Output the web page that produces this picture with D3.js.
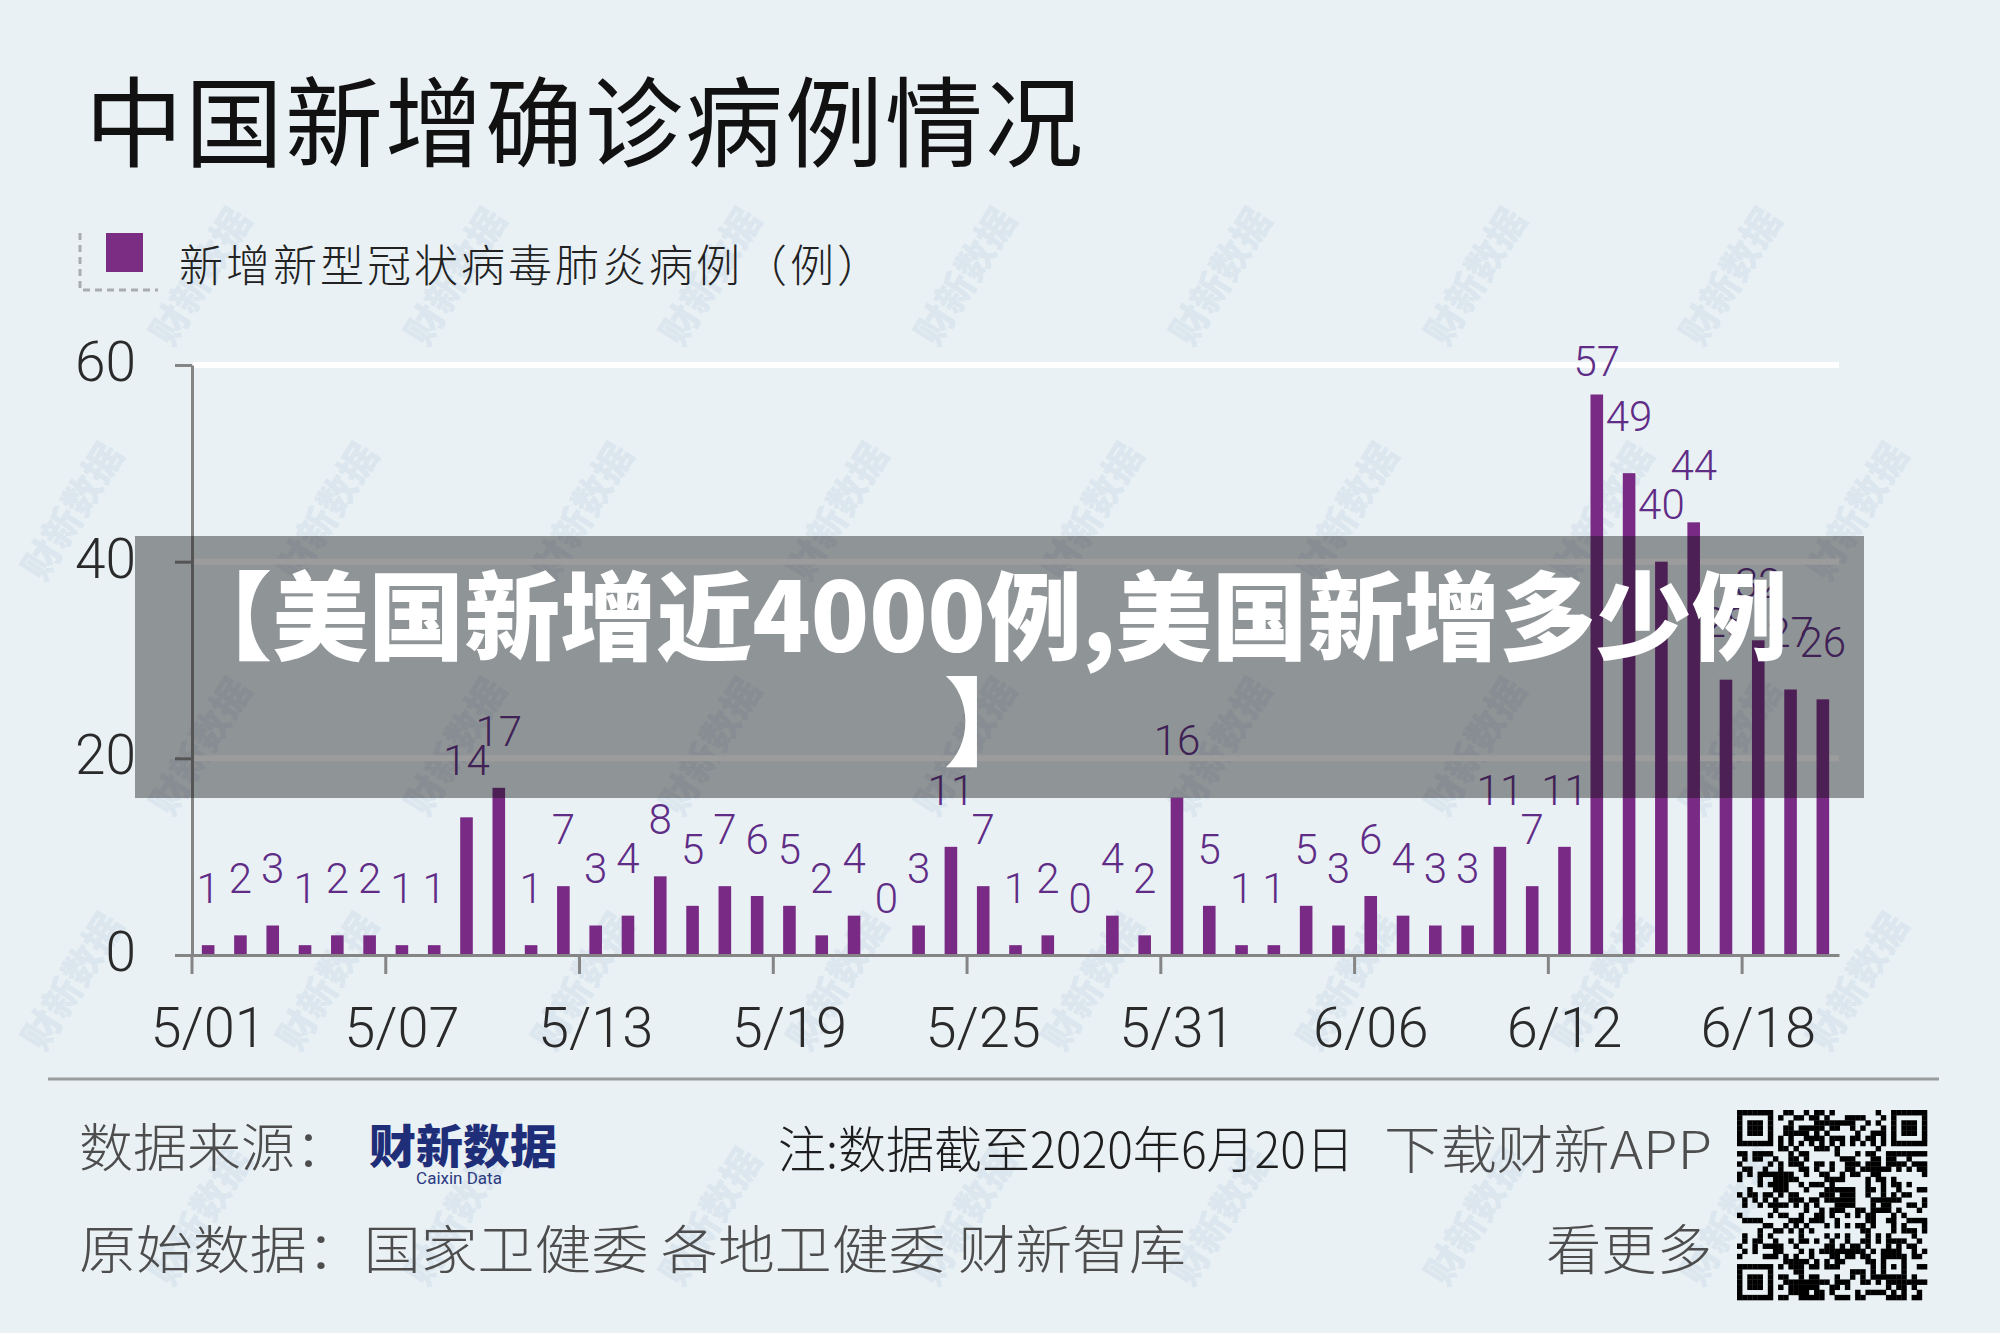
<!DOCTYPE html>
<html><head><meta charset="utf-8">
<script src="https://cdn.jsdelivr.net/npm/d3@7"></script>
<style>
html,body{margin:0;padding:0;background:#e9f1f5;}
svg{display:block;}
</style></head><body>
<svg id="c" width="2000" height="1333"></svg>
<script>
// ---------------- data ----------------
const dates = ['5/01','5/02','5/03','5/04','5/05','5/06','5/07','5/08','5/09','5/10',
  '5/11','5/12','5/13','5/14','5/15','5/16','5/17','5/18','5/19','5/20',
  '5/21','5/22','5/23','5/24','5/25','5/26','5/27','5/28','5/29','5/30','5/31',
  '6/01','6/02','6/03','6/04','6/05','6/06','6/07','6/08','6/09','6/10',
  '6/11','6/12','6/13','6/14','6/15','6/16','6/17','6/18','6/19','6/20'];
const values = [1,2,3,1,2,2,1,1,14,17,
  1,7,3,4,8,5,7,6,5,2,
  4,0,3,11,7,1,2,0,4,2,16,
  5,1,1,5,3,6,4,3,3,11,
  7,11,57,49,40,44,28,32,27,26];
const tickLabels = ['5/01','5/07','5/13','5/19','5/25','5/31','6/06','6/12','6/18'];
const yTicks = [0,20,40,60];
const titleText = '中国新增确诊病例情况';
const legendText = '新增新型冠状病毒肺炎病例（例）';
const overlayLines = ['【美国新增近4000例,美国新增多少例','】'];

// ---------------- setup ----------------
const W = 2000, H = 1333;
const svg = d3.select('#c');
const CJK = '"Noto Sans CJK SC","Noto Sans CJK JP",sans-serif';
const NUM = 'Roboto,"Liberation Sans",sans-serif';

svg.append('rect').attr('width', W).attr('height', H).attr('fill', '#e9f1f5');

// watermark (decoration), kept fully inside the canvas
const wm = svg.append('g');
for (let r = 0; r < 7; r++) {
  for (let c = -1; c < 9; c++) {
    const cx = 70 + c * 255 + (r % 2) * 128;
    const cy = 40 + r * 235;
    if (cx < 50 || cx > W - 50 || cy < 75 || cy > H - 75) continue;
    wm.append('text')
      .attr('transform', `translate(${cx},${cy}) rotate(-58)`)
      .attr('text-anchor', 'middle').attr('dominant-baseline', 'central')
      .attr('font-family', CJK).attr('font-weight', 900).attr('font-size', 38)
      .attr('fill', '#dbe6ee').text('财新数据');
  }
}

// title
svg.append('text').attr('x', 85).attr('y', 116)
  .attr('dominant-baseline', 'central')
  .attr('font-family', CJK).attr('font-size', 98).attr('font-weight', 400)
  .attr('letter-spacing', 2).attr('fill', '#111').text(titleText);

// legend
svg.append('path').attr('d', 'M80,233V290H158')
  .attr('fill', 'none').attr('stroke', '#a9adb1').attr('stroke-width', 3)
  .attr('stroke-dasharray', '7,5');
svg.append('rect').attr('x', 106).attr('y', 233).attr('width', 37).attr('height', 39)
  .attr('fill', '#7b2d83');
svg.append('text').attr('x', 179).attr('y', 263).attr('dominant-baseline', 'central')
  .attr('font-family', CJK).attr('font-size', 44).attr('font-weight', 300)
  .attr('letter-spacing', 3).attr('fill', '#222').text(legendText);

// ---------------- chart ----------------
const x0 = 192, x1 = 1839;
const x = d3.scaleBand().domain(dates).range([x0, x1]).paddingInner(0.61).paddingOuter(0.305);
const xa = d3.scaleBand().domain(dates).range([x0, x1]);
const y = d3.scaleLinear().domain([0, 60]).range([955, 365]);
const step = xa.step();

// gridlines
svg.append('g').selectAll('line').data(yTicks.filter(t => t > 0)).join('line')
  .attr('x1', x0 + 1).attr('x2', x1)
  .attr('y1', d => y(d)).attr('y2', d => y(d))
  .attr('stroke', '#ffffff').attr('stroke-width', 6);

// bars
svg.append('g').selectAll('rect').data(values).join('rect')
  .attr('x', (d, i) => x(dates[i]))
  .attr('y', d => y(d))
  .attr('width', x.bandwidth())
  .attr('height', d => y(0) - y(d))
  .attr('fill', '#782a85');

// value labels
svg.append('g').selectAll('text').data(values).join('text')
  .attr('x', (d, i) => x(dates[i]) + x.bandwidth() / 2)
  .attr('y', d => Math.max(y(d) - 57, y(60) - 4))
  .attr('dy', '0.35em')
  .attr('text-anchor', 'middle')
  .attr('font-family', NUM).attr('font-weight', 300).attr('font-size', 42)
  .attr('fill', '#5f2c86')
  .text(d => d);

// y axis
const yAxis = svg.append('g').attr('transform', `translate(${x0},0)`)
  .call(d3.axisLeft(y).tickValues(yTicks).tickSize(17).tickSizeOuter(0).tickPadding(39));
yAxis.selectAll('line,path').attr('stroke', '#858585').attr('stroke-width', 3);
yAxis.selectAll('text').attr('font-family', NUM).attr('font-weight', 300)
  .attr('font-size', 55).attr('fill', '#2a2a2a').attr('dy', '0.28em');

// x axis
const xAxis = svg.append('g').attr('transform', `translate(0,${y(0)})`)
  .call(d3.axisBottom(xa).tickValues(tickLabels).tickSize(19).tickSizeOuter(0).tickPadding(53));
xAxis.select('.domain').attr('stroke', '#858585').attr('stroke-width', 3);
xAxis.selectAll('.tick line').attr('x1', -step / 2).attr('x2', -step / 2)
  .attr('stroke', '#858585').attr('stroke-width', 3);
xAxis.selectAll('.tick text').attr('font-family', NUM).attr('font-weight', 300)
  .attr('font-size', 56).attr('fill', '#2a2a2a').attr('y', 52).attr('dy', '0.71em');

// ---------------- overlay ----------------
svg.append('rect').attr('x', 135).attr('y', 536).attr('width', 1729).attr('height', 262)
  .attr('fill', 'rgba(20,20,20,0.42)');
svg.append('g').selectAll('text').data(overlayLines).join('text')
  .attr('x', (d, i) => i === 0 ? 982 : 992)
  .attr('y', (d, i) => 610 + i * 106)
  .attr('text-anchor', 'middle').attr('dominant-baseline', 'central')
  .attr('font-family', CJK).attr('font-weight', 900).attr('font-size', 96)
  .attr('fill', '#ffffff').text(d => d);

// ---------------- footer ----------------
svg.append('line').attr('x1', 48).attr('x2', 1939).attr('y1', 1079).attr('y2', 1079)
  .attr('stroke', '#9a9c9e').attr('stroke-width', 3);

const footer = [
  {t: '数据来源：', x: 79, y: 1144, len: 270, fill: '#4d4d4d', size: 52, w: 300},
  {t: '注:数据截至2020年6月20日', x: 778, y: 1146, len: 576, fill: '#1e1e1e', size: 50, w: 300},
  {t: '下载财新APP', x: 1384, y: 1146, len: 328, fill: '#4d4d4d', size: 52, w: 300},
  {t: '原始数据：国家卫健委 各地卫健委 财新智库', x: 79, y: 1246, len: 1107, fill: '#4d4d4d', size: 52, w: 300},
  {t: '看更多', x: 1546, y: 1246, len: 166, fill: '#4d4d4d', size: 54, w: 300}
];
svg.append('g').selectAll('text').data(footer).join('text')
  .attr('x', d => d.x).attr('y', d => d.y).attr('dominant-baseline', 'central')
  .attr('font-family', CJK).attr('font-size', d => d.size).attr('font-weight', d => d.w)
  .attr('fill', d => d.fill)
  .attr('textLength', d => d.len).attr('lengthAdjust', 'spacingAndGlyphs')
  .text(d => d.t);

// logo
svg.append('text').attr('x', 369).attr('y', 1143).attr('dominant-baseline', 'central')
  .attr('font-family', CJK).attr('font-weight', 900).attr('font-size', 46)
  .attr('textLength', 188).attr('lengthAdjust', 'spacingAndGlyphs')
  .attr('fill', '#1f2e78').text('财新数据');
svg.append('text').attr('x', 459).attr('y', 1178).attr('dominant-baseline', 'central')
  .attr('text-anchor', 'middle')
  .attr('font-family', NUM).attr('font-size', 17).attr('fill', '#2a3a80').text('Caixin Data');

// QR code (decoration)
const qn = 37, qx = 1737, qy = 1110, qs = 190 / qn;
const qr = svg.append('g');
function finder(r, c) {
  return (br, bc) => {
    const a = br - r, b = bc - c;
    if (a < 0 || b < 0 || a > 6 || b > 6) return null;
    if (a === 0 || a === 6 || b === 0 || b === 6) return 1;
    if (a >= 2 && a <= 4 && b >= 2 && b <= 4) return 1;
    return 0;
  };
}
const finders = [finder(0, 0), finder(0, 30), finder(30, 0)];
for (let r = 0; r < qn; r++) {
  for (let c = 0; c < qn; c++) {
    let v = null;
    for (const f of finders) { const k = f(r, c); if (k !== null) v = k; }
    if (v === null) {
      if ((r === 7 && (c < 8 || c > 28)) || (c === 7 && (r < 8 || r > 28)) || (r === 29 && c < 8) || (c === 29 && r < 8)) v = 0;
      else if (r === 6) v = (c % 2 === 0) ? 1 : 0;
      else if (c === 6) v = (r % 2 === 0) ? 1 : 0;
      else if (r >= 28 && r <= 32 && c >= 28 && c <= 32) {
        const a = Math.max(Math.abs(r - 30), Math.abs(c - 30));
        v = (a === 1) ? 0 : 1;
      } else {
        let h = (r * 73 + c * 151 + r * c * 31 + 17) >>> 0;
        h = ((h ^ (h >>> 3)) * 2654435761) >>> 0;
        v = ((h >>> 13) & 1);
      }
    }
    if (v) qr.append('rect').attr('x', qx + c * qs).attr('y', qy + r * qs)
      .attr('width', qs + 0.3).attr('height', qs + 0.3).attr('fill', '#000');
  }
}
</script>
</body></html>
